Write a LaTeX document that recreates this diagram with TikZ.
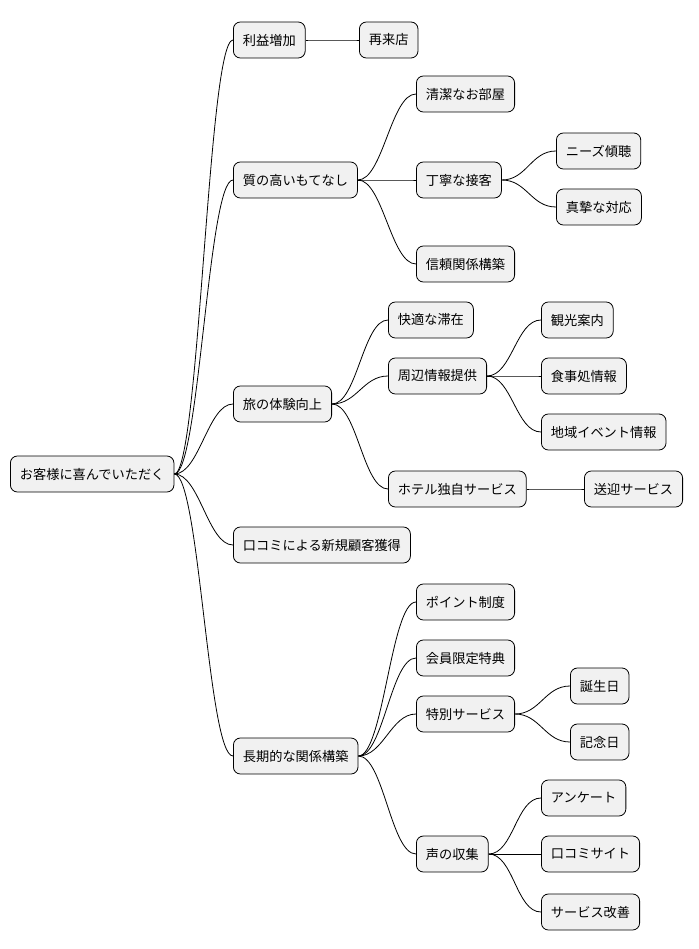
\documentclass[tikz,border=0pt]{standalone}
\usepackage{fontspec}
\setmainfont{Noto Sans CJK JP}
\definecolor{boxfill}{RGB}{241,241,241}
\begin{document}
\begin{tikzpicture}[x=1pt,y=-1pt,
  topic/.style={draw, rounded corners=7pt, fill=boxfill, line width=0.8pt, anchor=west,
    minimum height=36pt, inner xsep=9.5pt, font=\fontsize{13.2}{15}\selectfont},
  link/.style={line width=0.8pt}]
\useasboundingbox (0,0) rectangle (698,949);
% root
\node[topic] (root) at (10,474) {お客様に喜んでいただく};
% first level
\node[topic] (rieki) at (233,40) {利益増加};
\node[topic] (shitsu) at (233,180) {質の高いもてなし};
\node[topic] (tabi) at (233,404) {旅の体験向上};
\node[topic] (kuchi) at (233,545) {口コミによる新規顧客獲得};
\node[topic] (choki) at (233,756) {長期的な関係構築};
% second level
\node[topic] (raiten) at (359,40) {再来店};
\node[topic] (heya) at (416,94) {清潔なお部屋};
\node[topic] (sekkyaku) at (416,180) {丁寧な接客};
\node[topic] (shinrai) at (416,264) {信頼関係構築};
\node[topic] (taizai) at (388,320) {快適な滞在};
\node[topic] (shuhen) at (388,376) {周辺情報提供};
\node[topic] (dokuji) at (388,489) {ホテル独自サービス};
\node[topic] (point) at (416,602) {ポイント制度};
\node[topic] (kaiin) at (416,658) {会員限定特典};
\node[topic] (tokubetsu) at (416,714) {特別サービス};
\node[topic] (koe) at (416,854) {声の収集};
% third level
\node[topic] (needs) at (556,151) {ニーズ傾聴};
\node[topic] (shinshi) at (556,207) {真摯な対応};
\node[topic] (kanko) at (541,320) {観光案内};
\node[topic] (shokuji) at (541,376) {食事処情報};
\node[topic] (chiiki) at (541,432) {地域イベント情報};
\node[topic] (sogei) at (584,489) {送迎サービス};
\node[topic] (tanjo) at (570,686) {誕生日};
\node[topic] (kinen) at (570,742) {記念日};
\node[topic] (enquete) at (541,798) {アンケート};
\node[topic] (site) at (541,854) {口コミサイト};
\node[topic] (kaizen) at (541,912) {サービス改善};
% connectors
\foreach \a/\b in {root/rieki, root/shitsu, root/tabi, root/kuchi, root/choki,
  rieki/raiten, shitsu/heya, shitsu/sekkyaku, shitsu/shinrai,
  sekkyaku/needs, sekkyaku/shinshi,
  tabi/taizai, tabi/shuhen, tabi/dokuji,
  shuhen/kanko, shuhen/shokuji, shuhen/chiiki, dokuji/sogei,
  choki/point, choki/kaiin, choki/tokubetsu, choki/koe,
  tokubetsu/tanjo, tokubetsu/kinen,
  koe/enquete, koe/site, koe/kaizen}
  \draw[link] (\a.east) .. controls ([xshift=25pt]\a.east) and ([xshift=-25pt]\b.west) .. (\b.west);
\end{tikzpicture}
\end{document}
